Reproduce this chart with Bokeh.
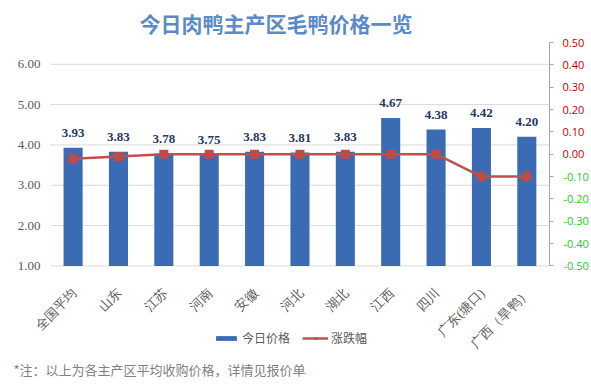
from math import pi
from bokeh.plotting import figure
from bokeh.models import (Range1d, LinearAxis, FixedTicker, ColumnDataSource, LabelSet,
                          Legend, LegendItem, NumeralTickFormatter, Title)
from bokeh.embed import file_html
from bokeh.resources import INLINE

# ---- data ----
categories = ["全国平均", "山东", "江苏", "河南", "安徽", "河北", "湖北", "江西", "四川", "广东(塘口)", "广西（旱鸭）"]
prices = [3.93, 3.83, 3.78, 3.75, 3.83, 3.81, 3.83, 4.67, 4.38, 4.42, 4.20]
changes = [-0.02, -0.01, 0.00, 0.00, 0.00, 0.00, 0.00, 0.00, 0.00, -0.10, -0.10]
price_ticks = [1, 2, 3, 4, 5, 6]
change_ticks_pos = [0.5, 0.4, 0.3, 0.2, 0.1, 0.0]
change_ticks_neg = [-0.1, -0.2, -0.3, -0.4, -0.5]
series_names = ["今日价格", "涨跌幅"]
title_text = "今日肉鸭主产区毛鸭价格一览"
note_text = "*注：以上为各主产区平均收购价格，详情见报价单"

FONT = "Noto Sans CJK SC"
NUM_FONT = "Open Sans"

# layout (pixels)
W, H = 591, 389
PLOT_LEFT, F_RIGHT, F_TOP, F_BOTTOM = 50, 550, 37, 352
AXIS_BASE = 264
P_LO, P_HI = 1.0, 6.54          # price axis spans AXIS_BASE..F_TOP
C_LO, C_HI = -0.5, 0.5          # change axis spans AXIS_BASE..F_TOP
ext = (F_BOTTOM - AXIS_BASE) / (AXIS_BASE - F_TOP)
y_lo = P_LO - (P_HI - P_LO) * ext
c_lo = C_LO - (C_HI - C_LO) * ext

n = len(categories)
xs = [i + 0.5 for i in range(n)]                 # category centres on a numeric scale
px_per_cat = (F_RIGHT - PLOT_LEFT) / n
x_lo = -PLOT_LEFT / px_per_cat                    # frame starts at the canvas edge

p = figure(width=W, height=H, x_range=Range1d(x_lo, n), y_range=Range1d(y_lo, P_HI),
           x_axis_location=None, y_axis_location=None,
           output_backend="svg", toolbar_location=None,
           min_border_left=0, min_border_right=W - F_RIGHT,
           min_border_top=F_TOP, min_border_bottom=H - F_BOTTOM)
p.extra_y_ranges = {"chg": Range1d(c_lo, C_HI)}
p.outline_line_color = None
p.background_fill_color = "white"
p.border_fill_color = "white"
p.xgrid.grid_line_color = None
p.ygrid.grid_line_color = None

# title
p.title.text = title_text
p.title.align = "left"
p.title.offset = 139
p.title.text_font = FONT
p.title.text_font_size = "21px"
p.title.text_font_style = "bold"
p.title.text_color = "#5b8bc6"

# horizontal grid lines + category axis line, spanning the category area only
gsrc = ColumnDataSource(dict(y=price_ticks, x0=[0] * len(price_ticks), x1=[n] * len(price_ticks),
                             text=[f"{t:.2f}" for t in price_ticks]))
p.segment(x0="x0", y0="y", x1="x1", y1="y", source=gsrc, line_color="#d9d9d9", line_width=1)

# left value labels
p.add_layout(LabelSet(x=PLOT_LEFT - 10, x_units="screen", y="y", text="text", source=gsrc,
                      text_align="right", text_baseline="middle", text_font=NUM_FONT,
                      text_font_size="13px", text_color="#595959"))

# right axis: red labels for >= 0, minor ticks for the negative positions
ra = LinearAxis(y_range_name="chg", bounds=(C_LO, C_HI),
                ticker=FixedTicker(ticks=change_ticks_pos, minor_ticks=change_ticks_neg),
                formatter=NumeralTickFormatter(format="0.00"))
ra.axis_line_color = "#a6a6a6"
ra.major_tick_line_color = "#a6a6a6"
ra.minor_tick_line_color = "#a6a6a6"
ra.major_tick_in = 0
ra.major_tick_out = 4
ra.minor_tick_in = 0
ra.minor_tick_out = 4
ra.major_label_standoff = 9
ra.major_label_text_font = NUM_FONT
ra.major_label_text_font_size = "11px"
ra.major_label_text_color = "#c00000"
p.add_layout(ra, "right")

# second right axis: green labels for negatives, pulled back under the first
ra2 = LinearAxis(y_range_name="chg", bounds=(C_LO, C_HI), ticker=FixedTicker(ticks=change_ticks_neg),
                 formatter=NumeralTickFormatter(format="0.00"))
ra2.axis_line_color = None
ra2.major_tick_line_color = None
ra2.minor_tick_line_color = None
ra2.major_tick_in = 0
ra2.major_tick_out = 0
ra2.major_label_standoff = -24
ra2.major_label_text_font = NUM_FONT
ra2.major_label_text_font_size = "11px"
ra2.major_label_text_color = "#22cc22"
p.add_layout(ra2, "right")

# bars
src = ColumnDataSource(dict(x=xs, cat=categories, price=prices, chg=changes,
                            label=[f"{v:.2f}" for v in prices],
                            base=[P_LO] * n))
r_bar = p.vbar(x="x", top="price", bottom=P_LO, width=0.42, source=src,
               fill_color="#3a6bb3", line_color=None)
p.add_layout(LabelSet(x="x", y="price", text="label", source=src, y_offset=15,
                      text_align="center", text_baseline="middle", text_font=NUM_FONT,
                      text_font_size="13px", text_font_style="bold", text_color="#1f3864"))

# category labels (rotated), hung below the axis base
p.add_layout(LabelSet(x="x", y="base", text="cat", source=src, angle=pi / 4,
                      x_offset=1, y_offset=-25, text_align="right", text_baseline="middle",
                      text_font=FONT, text_font_size="13px", text_color="#595959"))

# line
r_line = p.line(x="x", y="chg", source=src, y_range_name="chg",
                line_color="#c0504d", line_width=2.5)
r_pts = p.scatter(x="x", y="chg", source=src, y_range_name="chg", marker="square",
                  size=9, fill_color="#be4b48", line_color=None)

legend = Legend(items=[LegendItem(label=series_names[0], renderers=[r_bar]),
                       LegendItem(label=series_names[1], renderers=[r_line, r_pts])],
                orientation="horizontal", location=(213, 6),
                glyph_width=26, glyph_height=6, label_height=16, label_standoff=3,
                spacing=12, padding=0, margin=0,
                label_text_font=FONT, label_text_font_size="12px", label_text_color="#595959",
                border_line_color=None, background_fill_alpha=0)
p.add_layout(legend)

note = Title(text=note_text, align="left", offset=13, text_font=FONT,
             text_font_size="13px", text_font_style="normal", text_color="#7f7f7f")
p.add_layout(note, "below")

open("out.html", "w").write(file_html(p, INLINE))
